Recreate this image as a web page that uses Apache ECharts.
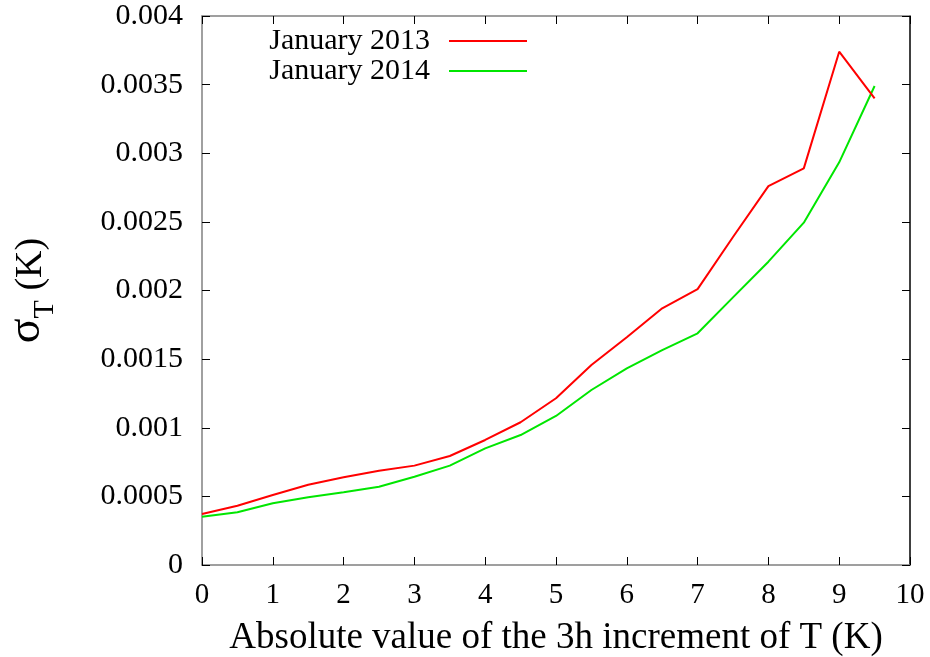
<!DOCTYPE html>
<html>
<head>
<meta charset="utf-8">
<script src="https://cdn.jsdelivr.net/npm/echarts@6/dist/echarts.min.js"></script>
<style>
  html, body { margin: 0; padding: 0; background: #fff; }
  #chart { width: 930px; height: 657px; }
</style>
</head>
<body>
<div id="chart"></div>
<script>
// Absolute 3h temperature increment (K), sampled every 0.5 K
const increments = [0, 0.5, 1, 1.5, 2, 2.5, 3, 3.5, 4, 4.5, 5, 5.5, 6, 6.5, 7, 7.5, 8, 8.5, 9, 9.5];

// sigma_T (K) per month
const jan2013 = [0.000372, 0.000432, 0.000510, 0.000585, 0.000639, 0.000687, 0.000724, 0.000794,
                 0.000911, 0.001040, 0.001215, 0.001457, 0.001660, 0.001870, 0.002010, 0.002390,
                 0.002760, 0.002890, 0.003740, 0.003400];
const jan2014 = [0.000352, 0.000384, 0.000450, 0.000493, 0.000530, 0.000570, 0.000643, 0.000724,
                 0.000850, 0.000947, 0.001086, 0.001275, 0.001433, 0.001566, 0.001688, 0.001950,
                 0.002210, 0.002494, 0.002934, 0.003490];

const seriesNames = ['January 2013', 'January 2014'];
const seriesColors = ['#ff0000', '#00e600'];

const FONT = 'Liberation Serif';

const pairs = (ys) => increments.map((x, i) => [x, ys[i]]);

const yLabel = (v) => (v === 0 ? '0' : String(Number(v.toPrecision(6))));

const chart = echarts.init(document.getElementById('chart'), null, { renderer: 'canvas' });

const tick = () => ({ show: true, inside: true, length: 8, lineStyle: { color: '#000', width: 1 } });
const line = (color) => ({ show: true, onZero: false, lineStyle: { color, width: 1.5 } });

chart.setOption({
  animation: false,
  backgroundColor: '#ffffff',
  textStyle: { fontFamily: FONT, color: '#000' },
  grid: { left: 202, right: 20, top: 16, bottom: 92, containLabel: false, outerBoundsMode: 'none' },
  legend: {
    orient: 'vertical',
    align: 'right',
    right: 398,
    top: 21,
    itemGap: 0,
    itemWidth: 78,
    itemHeight: 2,
    icon: 'rect',
    data: seriesNames,
    textStyle: { fontFamily: FONT, fontSize: 30, color: '#000', padding: [0, 14, 0, 0] }
  },
  xAxis: [
    {
      type: 'value', min: 0, max: 10, interval: 1,
      axisLine: line('#808080'),
      axisTick: tick(),
      splitLine: { show: false },
      axisLabel: { fontFamily: FONT, fontSize: 29, color: '#000', margin: 16 },
      name: 'Absolute value of the 3h increment of T (K)',
      nameLocation: 'middle',
      nameGap: 55,
      nameTextStyle: { fontFamily: FONT, fontSize: 37, color: '#000' }
    },
    {
      type: 'value', position: 'top', min: 0, max: 10, interval: 1,
      axisLine: line('#808080'),
      axisTick: tick(),
      axisLabel: { show: false },
      splitLine: { show: false }
    }
  ],
  yAxis: [
    {
      type: 'value', min: 0, max: 0.004, interval: 0.0005,
      axisLine: line('#808080'),
      axisTick: tick(),
      splitLine: { show: false },
      axisLabel: { fontFamily: FONT, fontSize: 30, color: '#000', margin: 19, formatter: yLabel },
      name: '{s|σ}{t|T}{k| (K)}',
      nameLocation: 'middle',
      nameRotate: 90,
      nameGap: 152,
      nameTextStyle: {
        color: '#000',
        rich: {
          s: { fontFamily: FONT, fontSize: 46, color: '#000', verticalAlign: 'bottom', lineHeight: 50 },
          t: { fontFamily: FONT, fontSize: 30, color: '#000', verticalAlign: 'bottom', lineHeight: 50, padding: [0, 0, -10, 0] },
          k: { fontFamily: FONT, fontSize: 38, color: '#000', verticalAlign: 'bottom', lineHeight: 50 }
        }
      }
    },
    {
      type: 'value', position: 'right', min: 0, max: 0.004, interval: 0.0005,
      axisLine: line('#000'),
      axisTick: tick(),
      axisLabel: { show: false },
      splitLine: { show: false }
    }
  ],
  series: seriesNames.map((name, i) => ({
    name,
    type: 'line',
    xAxisIndex: 0,
    yAxisIndex: 0,
    data: pairs(i === 0 ? jan2013 : jan2014),
    symbol: 'none',
    lineStyle: { color: seriesColors[i], width: 2 },
    itemStyle: { color: seriesColors[i] },
    z: i === 0 ? 3 : 2
  }))
});
</script>
</body>
</html>
